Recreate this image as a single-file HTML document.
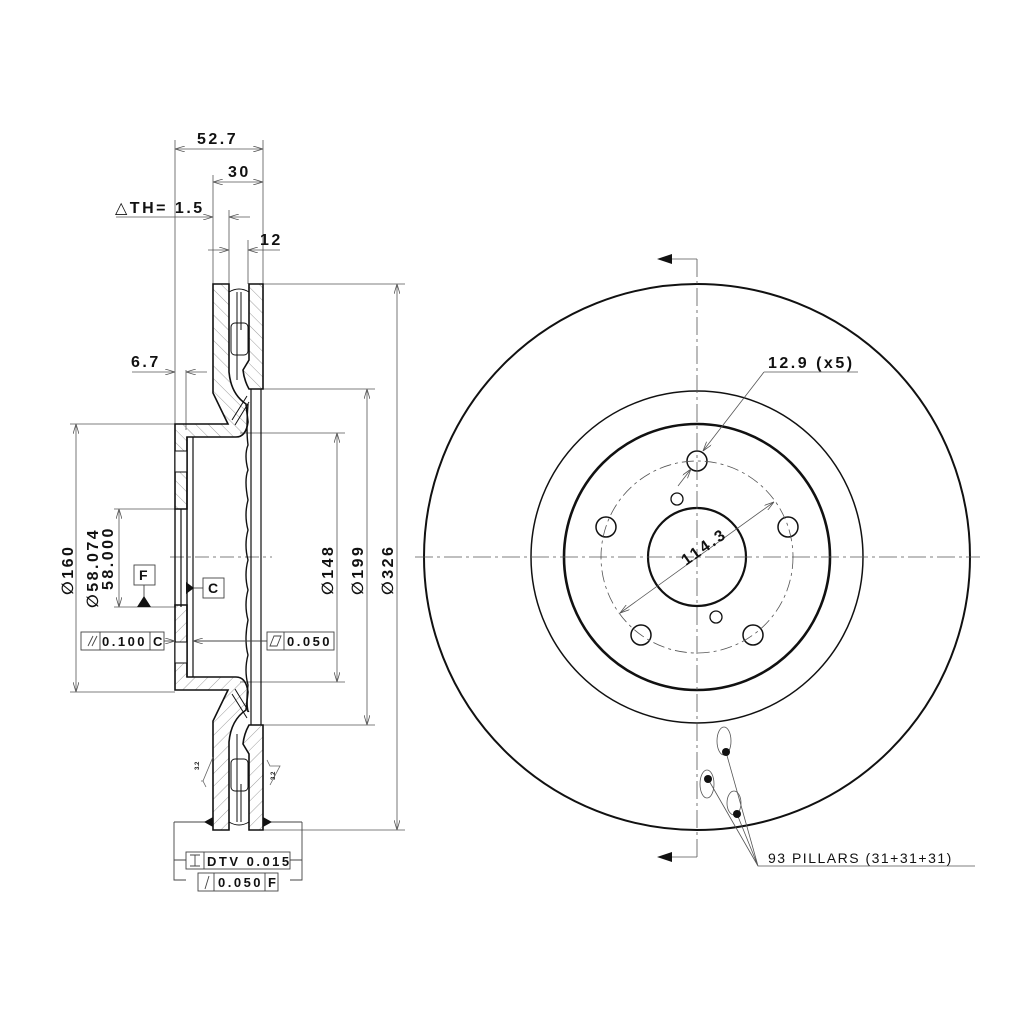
<!DOCTYPE html>
<html><head><meta charset="utf-8"><style>
html,body{margin:0;padding:0;background:#fff}
svg{display:block}
text{font-family:"Liberation Sans","DejaVu Sans",sans-serif;font-weight:bold;fill:#111;letter-spacing:2.5px}
</style></head><body>
<svg width="1024" height="1024" viewBox="0 0 1024 1024" xmlns="http://www.w3.org/2000/svg">
<defs>
<pattern id="h" patternUnits="userSpaceOnUse" width="9" height="9" patternTransform="rotate(-45)">
<line x1="0" y1="0" x2="0" y2="9" stroke="#888" stroke-width="0.8"/>
</pattern>
<marker id="a" markerWidth="10" markerHeight="6" refX="10" refY="3" orient="auto-start-reverse" markerUnits="userSpaceOnUse">
<path d="M0,0 L10,3 L0,6" fill="none" stroke="#555" stroke-width="0.8"/>
</marker>
</defs>
<rect width="1024" height="1024" fill="#fff"/>

<g stroke="#555" stroke-width="0.8" fill="none">
<line x1="175" y1="140" x2="175" y2="424"/>
<line x1="263" y1="140" x2="263" y2="284"/>
<line x1="213" y1="175" x2="213" y2="284"/>
<line x1="229" y1="210" x2="229" y2="284"/>
<line x1="248" y1="240" x2="248" y2="284"/>
<line x1="175" y1="149" x2="263" y2="149" marker-start="url(#a)" marker-end="url(#a)"/>
<line x1="213" y1="182" x2="263" y2="182" marker-start="url(#a)" marker-end="url(#a)"/>
<line x1="116" y1="217" x2="213" y2="217" marker-end="url(#a)"/>
<line x1="250" y1="217" x2="229" y2="217" marker-end="url(#a)"/>
<line x1="208" y1="250" x2="229" y2="250" marker-end="url(#a)"/>
<line x1="280" y1="250" x2="248" y2="250" marker-end="url(#a)"/>
<line x1="186" y1="370" x2="186" y2="430"/>
<line x1="132" y1="372" x2="175" y2="372" marker-end="url(#a)"/>
<line x1="207" y1="372" x2="186" y2="372" marker-end="url(#a)"/>
<line x1="263" y1="284" x2="405" y2="284"/>
<line x1="263" y1="830" x2="405" y2="830"/>
<line x1="397" y1="284" x2="397" y2="830" marker-start="url(#a)" marker-end="url(#a)"/>
<line x1="263" y1="389" x2="375" y2="389"/>
<line x1="263" y1="725" x2="375" y2="725"/>
<line x1="367" y1="389" x2="367" y2="725" marker-start="url(#a)" marker-end="url(#a)"/>
<line x1="240" y1="433" x2="345" y2="433"/>
<line x1="240" y1="682" x2="345" y2="682"/>
<line x1="337" y1="433" x2="337" y2="682" marker-start="url(#a)" marker-end="url(#a)"/>
<line x1="70" y1="424" x2="175" y2="424"/>
<line x1="70" y1="692" x2="175" y2="692"/>
<line x1="76" y1="424" x2="76" y2="692" marker-start="url(#a)" marker-end="url(#a)"/>
<line x1="114" y1="509" x2="175" y2="509"/>
<line x1="114" y1="607" x2="175" y2="607"/>
<line x1="119" y1="509" x2="119" y2="607" marker-start="url(#a)" marker-end="url(#a)"/>
<line x1="170" y1="557" x2="272" y2="557" stroke-dasharray="14 4 3 4"/>
</g>

<g id="half" stroke="#111" stroke-width="1.6">
<path d="M175,424 L228,424 L213,393 L213,284 L229,284 L229,372 Q231,394 246,404 L248,422 Q246,437 236,437 L187,437 L187,509 L175,509 Z" fill="url(#h)"/>
<path d="M249,284 L263,284 L263,389 L249,389 Q244,380 243,370 L249,360 Z" fill="url(#h)"/>
<rect x="175" y="451" width="12" height="21" fill="#fff" stroke-width="1"/>
<g fill="none" stroke-width="1">
<path d="M229,292 Q239,286 249,292"/>
<line x1="237" y1="292" x2="237" y2="380"/>
<line x1="241" y1="292" x2="241" y2="330"/>
<rect x="231" y="323" width="17" height="32" rx="4"/>
<path d="M232,420 L247,396 M235,425 L249,402"/>
</g>
</g>
<use href="#half" transform="translate(0,1114) scale(1,-1)"/>
<g stroke="#111" fill="none">
<line x1="187" y1="437" x2="187" y2="677" stroke-width="1.4"/>
<line x1="193" y1="437" x2="193" y2="677" stroke-width="1.2"/>
<line x1="181" y1="509" x2="181" y2="607" stroke-width="1.2"/>
<line x1="175" y1="509" x2="175" y2="607" stroke-width="1.4"/>
<path d="M248,404 Q246,430 248,445 Q244,455 248,470 Q244,480 248,500 Q244,515 248,530 Q244,545 248,560 Q244,575 248,590 Q244,605 248,620 Q244,640 248,655 Q244,670 248,685 Q246,700 248,712" stroke-width="1.4"/>
<line x1="251" y1="389" x2="251" y2="725" stroke-width="1.2"/>
<line x1="261" y1="389" x2="261" y2="725" stroke-width="1.2"/>
</g>
<g stroke="#444" stroke-width="0.9" fill="#fff">
<rect x="134" y="565" width="21" height="20"/>
<line x1="144" y1="585" x2="144" y2="599"/>
<rect x="203" y="578" width="21" height="20"/>
<line x1="193" y1="588" x2="203" y2="588"/>
<rect x="81" y="632" width="83" height="18"/>
<line x1="100" y1="632" x2="100" y2="650"/><line x1="150" y1="632" x2="150" y2="650"/>
<line x1="164" y1="641" x2="175" y2="641" marker-end="url(#a)"/>
<line x1="267" y1="641" x2="193" y2="641" marker-end="url(#a)"/>
<rect x="267" y="632" width="67" height="18"/>
<line x1="284" y1="632" x2="284" y2="650"/>
<path d="M270,646 L274,636 L281,636 L277,646 Z" fill="none"/>
<path d="M174,822 L174,880 L186,880 M174,860 L186,860 M302,822 L302,880 L290,880 M302,860 L290,860" fill="none"/>
<line x1="174" y1="822" x2="213" y2="822"/><line x1="263" y1="822" x2="302" y2="822"/>
<rect x="186" y="852" width="104" height="17"/>
<line x1="204" y1="852" x2="204" y2="869"/>
<rect x="198" y="873" width="80" height="18"/>
<line x1="214" y1="873" x2="214" y2="891"/><line x1="265" y1="873" x2="265" y2="891"/>
<path d="M88,646 L93,636 M92,646 L97,636 M205,889 L209,876 M190,855 L200,855 M190,866 L200,866 M195,855 L195,866" fill="none"/>
</g>
<path d="M137,607 L144,596 L151,607 Z" fill="#111"/>
<path d="M186,582 L194,588 L186,594 Z" fill="#111"/>
<path d="M204,822 L213,817 L213,827 Z M272,822 L263,817 L263,827 Z" fill="#111"/>
<g stroke="#666" stroke-width="0.8" fill="none">
<path d="M206,787 L203,781 L213,757 M203,781 L201,781"/>
<path d="M267,760 L270,766 L280,766 L270,785"/>
</g>
<text x="199" y="770" font-size="6" style="letter-spacing:0" transform="rotate(-90 199 770)">3.2</text>
<text x="275" y="780" font-size="6" style="letter-spacing:0" transform="rotate(-90 275 780)">3.2</text>

<text x="197" y="144" font-size="16">52.7</text>
<text x="228" y="177" font-size="16">30</text>
<text x="115" y="213" font-size="16">△TH= 1.5</text>
<text x="260" y="245" font-size="16">12</text>
<text x="131" y="367" font-size="16">6.7</text>
<text x="139" y="580" font-size="14" style="letter-spacing:0">F</text>
<text x="208" y="593" font-size="14" style="letter-spacing:0">C</text>
<text x="102" y="646" font-size="13">0.100</text>
<text x="153" y="646" font-size="13" style="letter-spacing:0">C</text>
<text x="287" y="646" font-size="13">0.050</text>
<text x="207" y="866" font-size="13">DTV 0.015</text>
<text x="218" y="887" font-size="13">0.050</text>
<text x="268" y="887" font-size="13" style="letter-spacing:0">F</text>
<text font-size="16" transform="translate(73,595) rotate(-90)">∅160</text>
<text font-size="16" transform="translate(98,608) rotate(-90)">∅58.074</text>
<text font-size="16" transform="translate(113,590) rotate(-90)">58.000</text>
<text font-size="16" transform="translate(333,595) rotate(-90)">∅148</text>
<text font-size="16" transform="translate(363,595) rotate(-90)">∅199</text>
<text font-size="16" transform="translate(393,595) rotate(-90)">∅326</text>

<g fill="none" stroke="#111">
<circle cx="697" cy="557" r="273" stroke-width="2"/>
<circle cx="697" cy="557" r="166" stroke-width="1.5"/>
<circle cx="697" cy="557" r="133" stroke-width="2.6"/>
<circle cx="697" cy="557" r="49" stroke-width="2.2"/>
<circle cx="697" cy="461" r="10" stroke-width="1.5"/>
<circle cx="788" cy="527" r="10" stroke-width="1.5"/>
<circle cx="753" cy="635" r="10" stroke-width="1.5"/>
<circle cx="641" cy="635" r="10" stroke-width="1.5"/>
<circle cx="606" cy="527" r="10" stroke-width="1.5"/>
<circle cx="677" cy="499" r="6" stroke-width="1.3"/>
<circle cx="716" cy="617" r="6" stroke-width="1.3"/>
</g>
<g fill="none" stroke="#555" stroke-width="0.8">
<circle cx="697" cy="557" r="96" stroke-dasharray="12 4 3 4"/>
<line x1="697" y1="259" x2="697" y2="857" stroke-dasharray="18 4 3 4"/>
<line x1="415" y1="557" x2="980" y2="557" stroke-dasharray="18 4 3 4"/>
<line x1="697" y1="259" x2="672" y2="259"/>
<line x1="697" y1="857" x2="672" y2="857"/>
<line x1="620" y1="613" x2="774" y2="502" marker-start="url(#a)" marker-end="url(#a)"/>
<line x1="764" y1="372" x2="858" y2="372"/>
<line x1="764" y1="372" x2="703" y2="451" marker-end="url(#a)"/>
<line x1="678" y1="486" x2="691" y2="469" marker-end="url(#a)"/>
<ellipse cx="724" cy="741" rx="7" ry="14"/>
<ellipse cx="707" cy="784" rx="7" ry="14"/>
<ellipse cx="734" cy="803" rx="7" ry="12"/>
<path d="M726,752 L758,866 M708,779 L758,866 M737,814 L758,866 L975,866"/>
</g>
<path d="M657,259 L672,254 L672,264 Z M657,857 L672,852 L672,862 Z" fill="#111"/>
<circle cx="726" cy="752" r="4" fill="#111"/>
<circle cx="708" cy="779" r="4" fill="#111"/>
<circle cx="737" cy="814" r="4" fill="#111"/>
<text x="768" y="368" font-size="16">12.9 (x5)</text>
<text font-size="16" transform="translate(686,566) rotate(-35)">114.3</text>
<text x="768" y="863" font-size="14" style="font-weight:normal;letter-spacing:1.5px">93 PILLARS (31+31+31)</text>
</svg>
</body></html>
